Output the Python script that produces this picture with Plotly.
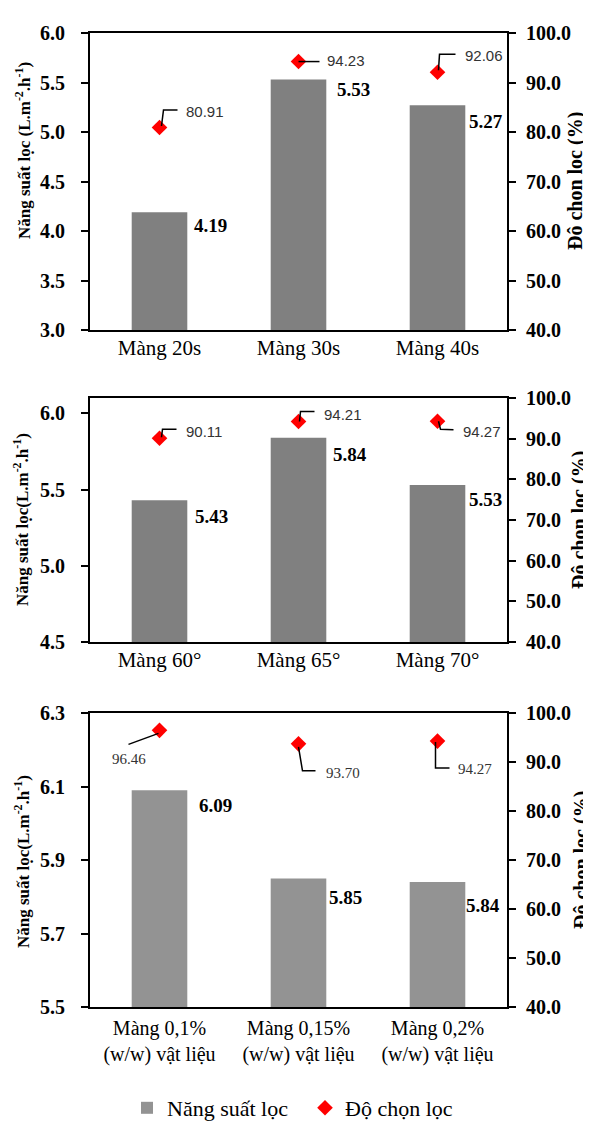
import plotly.graph_objects as go

# ---------------- data ----------------
cats1 = ["Màng 20s", "Màng 30s", "Màng 40s"]
flux1 = [4.19, 5.53, 5.27]
sel1 = [80.91, 94.23, 92.06]

cats2 = ["Màng 60°", "Màng 65°", "Màng 70°"]
flux2 = [5.43, 5.84, 5.53]
sel2 = [90.11, 94.21, 94.27]

cats3 = ["Màng 0,1%<br>(w/w) vật liệu", "Màng 0,15%<br>(w/w) vật liệu", "Màng 0,2%<br>(w/w) vật liệu"]
flux3 = [6.09, 5.85, 5.84]
sel3 = [96.46, 93.70, 94.27]

left_ticks1 = [3.0, 3.5, 4.0, 4.5, 5.0, 5.5, 6.0]
left_ticks2 = [4.5, 5.0, 5.5, 6.0]
left_ticks3 = [5.5, 5.7, 5.9, 6.1, 6.3]
right_ticks = [40.0, 50.0, 60.0, 70.0, 80.0, 90.0, 100.0]

left_titles = ["Năng suất lọc (L.m<sup>-2</sup>.h<sup>-1</sup>)",
               "Năng suất lọc(L.m<sup>-2</sup>.h<sup>-1</sup>)",
               "Năng suất lọc(L.m<sup>-2</sup>.h<sup>-1</sup>)"]
right_title = "Độ chọn lọc (%)"
legend_names = ["Năng suất lọc", "Độ chọn lọc"]

# ---------------- layout / style ----------------
W, H = 591, 1122
SERIF = "Times New Roman, Liberation Serif, serif"
SANS = "Arial, Liberation Sans, sans-serif"
X0, X1 = 82, 499
panels = [
    dict(cats=cats1, flux=flux1, sel=sel1, top=25, bot=322, lrange=[3.0, 6.0], ltick=left_ticks1,
         bar_color="#808080", sel_font=SANS, ltitle_y=143, ltitle_x=15, rtitle_x=568, rtitle_y=173,
         bar_off=[(51, -13), (55, -10), (48, -16)],
         sel_lab=[(45, 16.5), (47, 1), (46, 17)],
         sel_path=[[(2, 1.5), (4, 17.5), (18, 17.5)], [(0, 0), (21, 0)], [(1, 2), (2, 18), (18, 18)]]),
    dict(cats=cats2, flux=flux2, sel=sel2, top=390, bot=634, lrange=[4.5, 6.1], ltick=left_ticks2,
         bar_color="#808080", sel_font=SANS, ltitle_y=512, ltitle_x=13, rtitle_x=572, rtitle_y=512,
         bar_off=[(52, -16), (51, -17), (48, -15)],
         sel_lab=[(44, 7), (44, 7.5), (44, -10)],
         sel_path=[[(2, 1), (3, 9), (17, 9)], [(1, 0), (2, 10), (16, 10)], [(1, 0), (3, -8), (16, -8.5)]]),
    dict(cats=cats3, flux=flux3, sel=sel3, top=705, bot=999, lrange=[5.5, 6.3], ltick=left_ticks3,
         bar_color="#939393", sel_font=SERIF, ltitle_y=854, ltitle_x=14, rtitle_x=573, rtitle_y=852,
         bar_off=[(56, -15), (47, -19), (45, -23)],
         sel_lab=[(-31, -28.5), (44, -29), (37, -28)],
         sel_path=[[(-1, -3), (-31, -14)], [(0, -3), (4, -27), (17, -27)], [(-2, -1), (-2, -27), (12, -27)]]),
]

fig = go.Figure()
layout = dict(width=W, height=H, margin=dict(l=0, r=0, t=0, b=0, autoexpand=False),
              paper_bgcolor="white", plot_bgcolor="white", showlegend=True,
              font=dict(family=SERIF, color="black"))
annotations = []
shapes = []

for k, p in enumerate(panels):
    n = k + 1
    xa = "x" if n == 1 else f"x{n}"
    yl = f"y{2*n-1}" if n > 1 else "y"
    yr = f"y{2*n}"
    xs = list(range(len(p["cats"])))
    last = (n == 3)
    fig.add_trace(go.Bar(x=xs, y=p["flux"], xaxis=xa, yaxis=yl, width=0.4,
                         marker=dict(color=p["bar_color"], line=dict(width=0)),
                         name=legend_names[0], showlegend=last, legendrank=1))
    fig.add_trace(go.Scatter(x=xs, y=p["sel"], xaxis=xa, yaxis=yr, mode="markers",
                             marker=dict(symbol="diamond", size=12, color="#ff0000"),
                             name=legend_names[1], showlegend=last, legendrank=2))
    dom_y = [1 - p["bot"] / H, 1 - p["top"] / H]
    xkey = "xaxis" if n == 1 else f"xaxis{n}"
    ylkey = "yaxis" if n == 1 else f"yaxis{2*n-1}"
    yrkey = f"yaxis{2*n}"
    layout[xkey] = dict(domain=[X0 / W, X1 / W], anchor=yl, range=[-0.5, 2.5],
                        tickvals=xs, ticktext=p["cats"], showline=True, linecolor="black",
                        linewidth=2, mirror=True, ticks="", showgrid=False, zeroline=False,
                        tickfont=dict(family=SERIF, size=20 if last else 21, color="black"),
                        ticklabelstandoff=2 if last else -2)
    layout[ylkey] = dict(domain=dom_y, anchor=xa, range=p["lrange"], tickvals=p["ltick"],
                         ticktext=[f"<b>{v:.1f}</b>" for v in p["ltick"]],
                         showline=True, linecolor="black", linewidth=2,
                         ticks="outside", ticklen=7, tickwidth=2, tickcolor="black",
                         showgrid=False, zeroline=False, ticklabelstandoff=12,
                         tickfont=dict(family=SERIF, size=20, color="black"))
    layout[yrkey] = dict(domain=dom_y, anchor=xa, overlaying=yl, side="right", range=[40, 100],
                         tickvals=right_ticks, ticktext=[f"<b>{v:.1f}</b>" for v in right_ticks],
                         showline=True, linecolor="black", linewidth=2,
                         ticks="outside", ticklen=7, tickwidth=2, tickcolor="black",
                         showgrid=False, zeroline=False, ticklabelstandoff=6,
                         tickfont=dict(family=SERIF, size=20, color="black"))
    # bar value labels
    for i, v in enumerate(p["flux"]):
        dx, dy = p["bar_off"][i]
        annotations.append(dict(x=i, y=v, xref=xa, yref=yl, text=f"<b>{v:.2f}</b>", showarrow=False,
                                xshift=dx, yshift=dy, xanchor="center", yanchor="middle",
                                font=dict(family=SERIF, size=19, color="black")))
    # selectivity labels + leader lines
    for i, v in enumerate(p["sel"]):
        dx, dy = p["sel_lab"][i]
        annotations.append(dict(x=i, y=v, xref=xa, yref=yr, text=f"{v:.2f}", showarrow=False,
                                xshift=dx, yshift=dy, xanchor="center", yanchor="middle",
                                font=dict(family=p["sel_font"], size=15, color="#333333")))
        pts = p["sel_path"][i]
        path = "M " + " L ".join(f"{a},{b}" for a, b in pts)
        shapes.append(dict(type="path", xref=xa, yref=yr, xsizemode="pixel", ysizemode="pixel",
                           xanchor=i, yanchor=v, path=path, line=dict(color="black", width=1.5)))
    # axis titles
    annotations.append(dict(x=p["ltitle_x"] / W, y=1 - p["ltitle_y"] / H, xref="paper", yref="paper",
                            text=f"<b>{left_titles[k]}</b>", textangle=-90, showarrow=False,
                            xanchor="center", yanchor="middle",
                            font=dict(family=SERIF, size=17, color="black")))
    annotations.append(dict(x=p["rtitle_x"] / W, y=1 - p["rtitle_y"] / H, xref="paper", yref="paper",
                            text=f"<b>{right_title}</b>", textangle=-90, showarrow=False,
                            xanchor="center", yanchor="middle",
                            font=dict(family=SERIF, size=20, color="black")))

layout["annotations"] = annotations
layout["shapes"] = shapes
layout["legend"] = dict(orientation="h", x=119 / W, xanchor="left", y=1 - 1100 / H, yanchor="middle",
                        font=dict(family=SERIF, size=22, color="black"), itemwidth=30,
                        entrywidth=133, bgcolor="rgba(0,0,0,0)", traceorder="normal")
fig.update_layout(**layout)
fig.write_html("out.html")
